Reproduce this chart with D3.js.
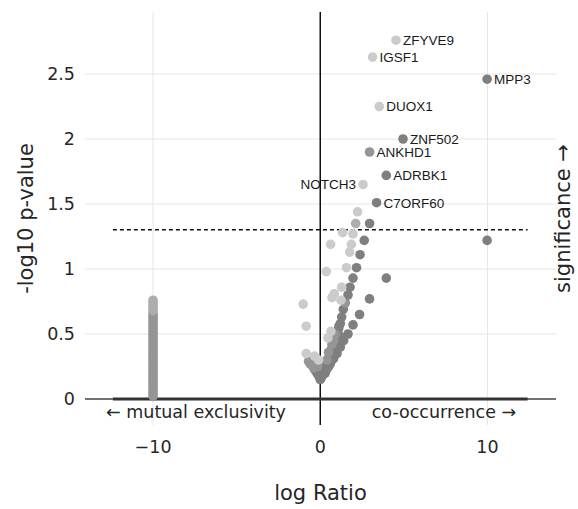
<!DOCTYPE html>
<html><head><meta charset="utf-8">
<script src="https://cdn.jsdelivr.net/npm/d3@7"></script>
<style>body{margin:0;background:#fff}svg{display:block}</style>
</head><body>
<script>
// ---- data ----
const geneNames  = ["ZFYVE9","IGSF1","MPP3","DUOX1","ZNF502","ANKHD1","ADRBK1","NOTCH3","C7ORF60"];
const geneX      = [4.53, 3.13, 9.98, 3.53, 4.95, 2.95, 3.95, 2.56, 3.37];
const geneY      = [2.76, 2.63, 2.46, 2.25, 2.00, 1.90, 1.72, 1.65, 1.51];
const geneShade  = [0, 0, 2, 0, 2, 1, 2, 0, 2];

const exclX = -10;
const exclY = [0.02,0.04,0.06,0.08,0.10,0.12,0.14,0.16,0.18,0.20,0.22,0.24,0.26,0.28,0.30,0.32,0.34,0.36,0.38,0.40,0.42,0.44,0.46,0.48,0.50,0.52,0.54,0.56,0.58,0.60,0.62,0.64,0.66,0.68,0.70,0.72,0.74,0.76];
const exclShade = [1,1,1,1,1,1,1,1,1,1,1,1,1,1,1,1,1,1,1,1,1,1,1,1,1,1,1,1,1,1,1,1,1,3,3,3,3,3];

const otherX = [0.00,0.05,-0.05,0.10,0.15,0.20,0.25,0.30,0.35,0.40,0.45,0.50,0.55,0.60,0.65,0.70,0.75,0.80,0.90,1.00,1.10,1.20,1.28,1.38,1.50,1.66,1.78,1.96,2.17,2.38,2.63,2.95,
  0.20,0.40,0.60,0.80,1.00,1.20,1.40,1.66,1.96,2.35,2.95,3.95,
  0.30,0.50,0.70,0.90,1.10,0.60,0.80,1.00,1.20,0.40,0.50,0.70,0.90,1.12,0.80,
  -0.10,-0.20,-0.30,-0.40,-0.50,-0.60,-0.70,-0.34,-0.84,-0.84,-1.02,-0.15,-0.10,
  0.36,0.62,0.46,0.64,0.70,0.84,1.24,1.28,1.57,1.76,1.86,1.96,1.34,2.12,2.23,9.98];
const otherY = [0.15,0.16,0.17,0.18,0.19,0.21,0.22,0.24,0.26,0.27,0.29,0.31,0.33,0.35,0.37,0.39,0.41,0.43,0.46,0.50,0.54,0.58,0.63,0.69,0.74,0.80,0.86,0.93,1.01,1.11,1.22,1.35,
  0.19,0.23,0.27,0.31,0.35,0.40,0.45,0.50,0.57,0.65,0.77,0.93,
  0.20,0.25,0.30,0.36,0.42,0.30,0.37,0.43,0.48,0.30,0.36,0.42,0.50,0.56,0.45,
  0.18,0.20,0.22,0.24,0.26,0.27,0.29,0.33,0.35,0.56,0.73,0.25,0.30,
  0.98,1.19,0.47,0.52,0.78,0.81,0.76,0.86,1.01,1.13,1.19,1.27,1.28,1.35,1.44,1.22];
const otherShade = [2,2,2,2,2,2,2,2,2,2,2,2,2,2,2,2,2,2,2,2,2,2,2,2,1,2,2,2,2,2,2,2,
  2,2,2,2,2,2,2,2,2,2,2,2,
  2,2,2,2,2,2,2,2,2,1,1,1,1,2,1,
  2,2,2,1,1,1,1,0,0,0,0,1,0,
  0,0,0,0,0,0,0,0,0,0,0,0,0,3,0,2];

const xTicks = [-10, 0, 10];
const xTickLabels = ["\u221210", "0", "10"];
const yTicks = [0, 0.5, 1, 1.5, 2, 2.5];
const yTickLabels = ["0", "0.5", "1", "1.5", "2", "2.5"];
const sigThreshold = 1.301;
const lineExtent = [-12.4, 12.4];

// ---- drawing ----
const W = 578, H = 509;
const L = 85, R = 556, T = 12, B = 425;
const shadeColor = ["#cbcbcb", "#959595", "#7f7f7f", "#adadad"];
const font = "'DejaVu Sans', Verdana, sans-serif";
const txt = "#262626";

const svg = d3.select("body").append("svg").attr("width", W).attr("height", H);
const x = d3.scaleLinear().domain([-14.07, 14.1]).range([L, R]);
const y = d3.scaleLinear().domain([-0.2, 2.977]).range([B, T]);

// grid
svg.append("g").selectAll("line").data(yTicks.filter(d => d !== 0)).join("line")
  .attr("x1", L).attr("x2", R).attr("y1", d => y(d)).attr("y2", d => y(d))
  .attr("stroke", "#e6e6e6").attr("stroke-width", 1);
svg.append("g").selectAll("line").data(xTicks.filter(d => d !== 0)).join("line")
  .attr("y1", T).attr("y2", B).attr("x1", d => x(d)).attr("x2", d => x(d))
  .attr("stroke", "#e6e6e6").attr("stroke-width", 1);

// zero lines
svg.append("line").attr("x1", L).attr("x2", R).attr("y1", y(0)).attr("y2", y(0))
  .attr("stroke", "#444").attr("stroke-width", 1.5);
svg.append("line").attr("x1", x(0)).attr("x2", x(0)).attr("y1", T).attr("y2", B)
  .attr("stroke", "#111").attr("stroke-width", 1.5);
svg.append("line").attr("x1", x(lineExtent[0])).attr("x2", x(lineExtent[1]))
  .attr("y1", y(0)).attr("y2", y(0)).attr("stroke", "#333").attr("stroke-width", 3);

// significance threshold
svg.append("line").attr("x1", x(lineExtent[0])).attr("x2", x(lineExtent[1]))
  .attr("y1", y(sigThreshold)).attr("y2", y(sigThreshold))
  .attr("stroke", "#111").attr("stroke-width", 1.5).attr("stroke-dasharray", "4,3");

// points
const pts = [];
exclY.forEach((v, i) => pts.push({x: exclX, y: v, s: exclShade[i]}));
otherX.forEach((v, i) => pts.push({x: v, y: otherY[i], s: otherShade[i]}));
geneX.forEach((v, i) => pts.push({x: v, y: geneY[i], s: geneShade[i]}));
svg.append("g").selectAll("circle").data(pts).join("circle")
  .attr("cx", d => x(d.x)).attr("cy", d => y(d.y)).attr("r", 4.8)
  .attr("fill", d => shadeColor[d.s]);

// gene labels
svg.append("g").selectAll("text").data(geneNames).join("text")
  .attr("x", (d, i) => d === "NOTCH3" ? x(geneX[i]) - 7 : x(geneX[i]) + 7)
  .attr("y", (d, i) => y(geneY[i]))
  .attr("dy", "0.36em")
  .attr("text-anchor", d => d === "NOTCH3" ? "end" : "start")
  .attr("font-family", "'Liberation Sans', Arial, sans-serif")
  .attr("font-size", 13.5).attr("fill", "#1a1a1a")
  .text(d => d);

// ticks
svg.append("g").selectAll("text").data(yTicks).join("text")
  .attr("x", 75).attr("y", d => y(d)).attr("dy", "0.36em").attr("text-anchor", "end")
  .attr("font-family", font).attr("font-size", 17.5).attr("fill", txt)
  .text((d, i) => yTickLabels[i]);
svg.append("g").selectAll("text").data(xTicks).join("text")
  .attr("x", d => x(d)).attr("y", 453).attr("text-anchor", "middle")
  .attr("font-family", font).attr("font-size", 17.5).attr("fill", txt)
  .text((d, i) => xTickLabels[i]);

// annotations
svg.append("text").attr("x", 196).attr("y", 418).attr("text-anchor", "middle")
  .attr("font-family", font).attr("font-size", 17.5).attr("fill", txt)
  .text("\u2190 mutual exclusivity");
svg.append("text").attr("x", 444).attr("y", 418).attr("text-anchor", "middle")
  .attr("font-family", font).attr("font-size", 17.5).attr("fill", txt)
  .text("co-occurrence \u2192");

// axis titles
svg.append("text").attr("x", (L + R) / 2).attr("y", 500).attr("text-anchor", "middle")
  .attr("font-family", font).attr("font-size", 21).attr("fill", txt)
  .text("log Ratio");
svg.append("text").attr("transform", `translate(26,${(T + B) / 2}) rotate(-90)`)
  .attr("text-anchor", "middle").attr("dy", "0.35em")
  .attr("font-family", font).attr("font-size", 21).attr("fill", txt)
  .text("-log10 p-value");
svg.append("text").attr("transform", `translate(563,${(T + B) / 2}) rotate(-90)`)
  .attr("text-anchor", "middle").attr("dy", "0.35em")
  .attr("font-family", font).attr("font-size", 21).attr("fill", txt)
  .text("significance \u2192");
</script>
</body></html>
